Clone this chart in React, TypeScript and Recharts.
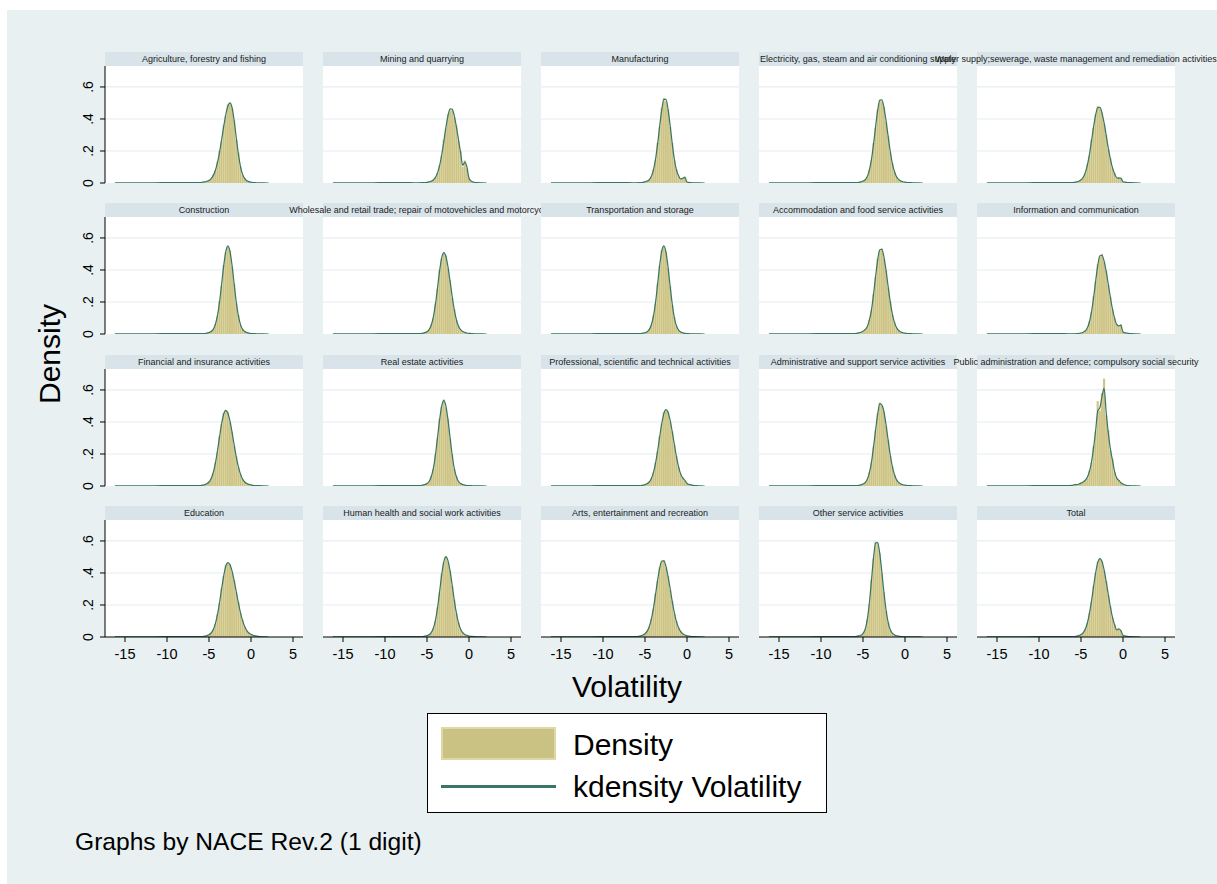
import React from "react";
import { ComposedChart, Bar, Line, XAxis, YAxis, CartesianGrid } from "recharts";

// ---------- data ----------
const panelTitles = [
  "Agriculture, forestry and fishing",
  "Mining and quarrying",
  "Manufacturing",
  "Electricity, gas, steam and air conditioning supply",
  "Water supply;sewerage, waste management and remediation activities",
  "Construction",
  "Wholesale and retail trade; repair of motovehicles and motorcycles",
  "Transportation and storage",
  "Accommodation and food service activities",
  "Information and communication",
  "Financial and insurance activities",
  "Real estate activities",
  "Professional, scientific and technical activities",
  "Administrative and support service activities",
  "Public administration and defence; compulsory social security",
  "Education",
  "Human health and social work activities",
  "Arts, entertainment and recreation",
  "Other service activities",
  "Total",
];

const binX = [-6, -5.75, -5.5, -5.25, -5, -4.75, -4.5, -4.25, -4, -3.75, -3.5, -3.25, -3, -2.75, -2.5, -2.25, -2, -1.75, -1.5, -1.25, -1, -0.75, -0.5, -0.25, 0, 0.25, 0.5, 0.75, 1];
const tailLeftX = [-16.2, -13, -10, -8, -7];
const tailLeftK = [0.001, 0.001, 0.002, 0.002, 0.002];
const tailRightX = [1.5, 2.1];
const tailRightK = [0.001, 0];

const xTicks = [-15, -10, -5, 0, 5];
const yTicks = [0, 0.2, 0.4, 0.6];
const gridValues = [0.2, 0.4, 0.6];

const kd01 = [.003,.005,.007,.011,.016,.027,.046,.078,.126,.19,.27,.353,.428,.481,.5,.469,.388,.282,.18,.103,.054,.027,.014,.009,.005,.003,.002,.001,.001];
const hist01 = [.004,.004,.008,.01,.018,.025,.05,.075,.13,.2,.26,.36,.42,.49,.49,.47,.39,.27,.19,.1,.05,.03,.012,.01,.004,.003,.002,.001,0];
const kd02 = [.001,.002,.002,.003,.004,.007,.011,.019,.034,.063,.108,.175,.259,.346,.421,.464,.46,.42,.35,.27,.19,.11,.13,.1,.03,.012,.006,.003,.002];
const hist02 = [.002,.001,.003,.003,.005,.006,.013,.018,.036,.06,.11,.17,.27,.34,.43,.46,.45,.41,.36,.26,.2,.1,.14,.09,.03,.01,.006,.002,.001];
const kd03 = [.001,.002,.003,.004,.007,.012,.02,.04,.08,.147,.243,.356,.458,.522,.522,.458,.356,.243,.147,.08,.045,.025,.03,.035,.006,.003,.002,.001,.001];
const hist03 = [.002,.002,.003,.005,.006,.013,.022,.038,.085,.14,.25,.35,.47,.53,.51,.46,.35,.25,.14,.085,.04,.028,.032,.04,.005,.003,.001,.001,0];
const kd04 = [.002,.003,.004,.007,.012,.02,.039,.079,.145,.24,.352,.454,.517,.519,.47,.387,.289,.195,.121,.07,.038,.022,.013,.008,.005,.003,.002,.002,.001];
const hist04 = [.002,.003,.005,.006,.013,.022,.037,.082,.14,.25,.345,.46,.52,.51,.475,.38,.295,.19,.125,.068,.04,.02,.014,.007,.005,.002,.002,.001,.001];
const kd05 = [.003,.004,.007,.011,.02,.034,.063,.11,.177,.262,.352,.427,.471,.472,.437,.375,.298,.218,.149,.094,.058,.033,.03,.03,.008,.005,.003,.002,.002];
const hist05 = [.003,.005,.006,.012,.018,.036,.06,.115,.17,.27,.345,.43,.48,.465,.44,.37,.3,.21,.155,.09,.06,.03,.034,.028,.007,.005,.002,.002,.001];
const kd06 = [.002,.002,.003,.005,.009,.015,.029,.059,.113,.198,.31,.426,.515,.55,.515,.426,.31,.198,.113,.059,.029,.015,.009,.005,.003,.002,.002,.001,.001];
const hist06 = [.002,.003,.003,.006,.008,.016,.027,.062,.11,.205,.3,.43,.51,.545,.52,.42,.315,.19,.118,.056,.03,.014,.01,.004,.003,.002,.001,.001,0];
const kd07 = [.002,.003,.005,.009,.014,.027,.055,.104,.183,.287,.394,.476,.508,.484,.418,.328,.233,.151,.089,.049,.027,.015,.01,.006,.004,.003,.002,.001,.001];
const hist07 = [.002,.004,.005,.008,.016,.025,.058,.1,.19,.28,.4,.47,.5,.49,.41,.335,.225,.155,.085,.052,.025,.016,.009,.006,.003,.003,.001,.001,0];
const kd08 = [.002,.002,.003,.005,.008,.014,.027,.056,.11,.195,.31,.43,.52,.55,.51,.415,.295,.185,.1,.05,.024,.012,.007,.004,.003,.002,.001,.001,.001];
const hist08 = [.002,.002,.004,.005,.009,.013,.029,.054,.115,.19,.315,.425,.525,.545,.515,.41,.3,.18,.105,.048,.025,.011,.008,.004,.002,.002,.001,.001,0];
const kd09 = [.003,.004,.007,.011,.017,.027,.045,.085,.148,.245,.359,.463,.526,.529,.479,.394,.294,.199,.123,.071,.039,.022,.013,.008,.005,.003,.002,.002,.001];
const hist09 = [.003,.005,.006,.012,.016,.029,.043,.088,.145,.25,.355,.47,.52,.535,.47,.4,.29,.205,.12,.074,.037,.023,.012,.008,.004,.003,.002,.001,.001];
const kd10 = [.001,.001,.002,.004,.006,.011,.019,.037,.075,.138,.228,.333,.43,.489,.492,.455,.391,.31,.228,.155,.098,.06,.05,.055,.013,.008,.005,.003,.002];
const hist10 = [.001,.002,.002,.004,.007,.01,.021,.035,.078,.135,.235,.33,.435,.485,.5,.45,.395,.305,.232,.15,.1,.058,.052,.06,.012,.008,.004,.003,.001];
const kd11 = [.003,.005,.009,.014,.025,.046,.083,.14,.217,.305,.389,.45,.473,.455,.405,.334,.255,.18,.119,.074,.043,.025,.015,.01,.007,.004,.003,.002,.002];
const hist11 = [.003,.006,.008,.015,.024,.048,.08,.145,.21,.31,.385,.455,.47,.46,.4,.34,.25,.185,.115,.076,.041,.026,.014,.01,.006,.004,.002,.002,.001];
const kd12 = [.002,.003,.005,.009,.015,.028,.058,.109,.192,.301,.413,.499,.533,.499,.413,.301,.192,.109,.058,.028,.015,.009,.005,.003,.002,.002,.001,.001,.001];
const hist12 = [.002,.003,.006,.008,.016,.027,.06,.105,.195,.295,.42,.495,.54,.49,.42,.295,.198,.105,.06,.027,.016,.008,.005,.003,.002,.001,.001,.001,0];
const kd13 = [.002,.002,.003,.005,.009,.014,.025,.046,.084,.142,.218,.308,.392,.454,.477,.459,.408,.337,.258,.182,.12,.074,.05,.035,.015,.01,.007,.004,.003];
const hist13 = [.002,.003,.003,.006,.008,.015,.024,.048,.082,.145,.215,.31,.39,.46,.47,.465,.4,.34,.255,.185,.118,.076,.055,.032,.016,.009,.007,.003,.002];
const kd14 = [.002,.003,.004,.007,.012,.021,.04,.08,.146,.242,.35,.45,.515,.505,.462,.38,.284,.192,.12,.07,.038,.022,.013,.008,.005,.003,.002,.002,.001];
const hist14 = [.002,.003,.005,.007,.011,.022,.038,.083,.143,.245,.345,.455,.52,.5,.465,.375,.29,.188,.122,.068,.04,.021,.013,.007,.005,.003,.002,.001,.001];
const kd15 = [.004,.008,.008,.012,.018,.025,.035,.055,.09,.15,.24,.35,.47,.49,.56,.61,.46,.33,.23,.16,.09,.05,.035,.02,.012,.006,.003,.002,.001];
const hist15 = [.005,.01,.006,.01,.02,.024,.038,.05,.095,.145,.25,.34,.53,.47,.58,.67,.44,.35,.22,.17,.085,.05,.037,.018,.012,.005,.003,.002,.001];
const kd16 = [.002,.003,.005,.009,.014,.025,.045,.082,.138,.213,.3,.382,.443,.465,.451,.41,.351,.282,.213,.151,.102,.065,.039,.025,.017,.01,.007,.005,.003];
const hist16 = [.003,.003,.006,.008,.015,.024,.047,.08,.142,.21,.305,.38,.45,.46,.455,.405,.355,.278,.218,.148,.105,.062,.041,.024,.018,.009,.007,.004,.003];
const kd17 = [.002,.002,.003,.005,.009,.014,.027,.054,.103,.18,.282,.388,.469,.5,.476,.411,.323,.229,.149,.088,.049,.027,.015,.01,.006,.004,.003,.002,.001];
const hist17 = [.002,.003,.003,.006,.008,.015,.025,.056,.1,.185,.278,.395,.465,.505,.47,.415,.318,.233,.145,.09,.047,.028,.014,.01,.005,.004,.002,.002,.001];
const kd18 = [.003,.004,.007,.012,.02,.035,.064,.11,.179,.264,.354,.43,.474,.475,.44,.377,.3,.22,.15,.095,.058,.034,.02,.012,.008,.005,.003,.002,.002];
const hist18 = [.003,.005,.006,.013,.019,.037,.062,.113,.175,.27,.35,.435,.47,.48,.435,.38,.295,.225,.146,.098,.056,.035,.019,.012,.007,.005,.003,.002,.001];
const kd19 = [.002,.004,.007,.011,.022,.048,.106,.208,.349,.493,.587,.59,.519,.403,.275,.166,.09,.045,.023,.013,.008,.005,.003,.002,.001,.001,.001,.001,.001];
const hist19 = [.002,.004,.008,.01,.024,.046,.11,.204,.355,.49,.595,.585,.525,.398,.28,.162,.093,.043,.024,.012,.008,.004,.003,.002,.001,.001,.001,0,0];
const kd20 = [.002,.003,.005,.009,.015,.026,.048,.086,.146,.224,.316,.403,.466,.49,.471,.419,.346,.265,.187,.123,.076,.045,.05,.04,.01,.007,.004,.003,.002];
const hist20 = [.002,.003,.006,.008,.016,.025,.05,.084,.15,.22,.32,.4,.47,.485,.475,.415,.35,.26,.19,.12,.078,.044,.055,.038,.011,.006,.004,.002,.002];

const kdList = [kd01, kd02, kd03, kd04, kd05, kd06, kd07, kd08, kd09, kd10, kd11, kd12, kd13, kd14, kd15, kd16, kd17, kd18, kd19, kd20];
const histList = [hist01, hist02, hist03, hist04, hist05, hist06, hist07, hist08, hist09, hist10, hist11, hist12, hist13, hist14, hist15, hist16, hist17, hist18, hist19, hist20];

// ---------- layout / style ----------
const FONT = '"Liberation Sans", Arial, Helvetica, sans-serif';
const X_DOMAIN: [number, number] = [-17.38, 6.19];
const Y_DOMAIN: [number, number] = [0, 0.731];
const PLOT_LEFT0 = 105;
const COL_STEP = 218;
const STRIP_TOP0 = 52;
const ROW_STEP = 151.4;
const STRIP_H = 14;
const PW = 198;
const PH = 117;
const Y_AXIS_W = 45;
const X_AXIS_H = 30;
const EXTRA_B = 12;

const BG = "#e8f0f2";
const STRIP_BG = "#d9e4ea";
const GRID = "#e6edf0";
const BAR_FILL = "#ccc283";
const BAR_STROKE = "#dcd5a0";
const LINE = "#367567";

function buildRows(i: number) {
  const kd = kdList[i];
  const hist = histList[i];
  const rows: { x: number; h?: number; k: number }[] = [];
  tailLeftX.forEach((x, j) => rows.push({ x, k: tailLeftK[j] }));
  binX.forEach((x, j) => rows.push({ x, h: hist[j], k: kd[j] }));
  tailRightX.forEach((x, j) => rows.push({ x, k: tailRightK[j] }));
  return rows;
}

const fmtY = (v: number) => (v === 0 ? "0" : String(v).replace(/^0/, ""));

const YTick = (props: any) => {
  const { x, y, payload } = props;
  const bx = x - 5;
  return (
    <text
      x={bx}
      y={y}
      transform={`rotate(-90 ${bx} ${y})`}
      textAnchor="middle"
      fontSize={14}
      fill="#000"
      fontFamily={FONT}
    >
      {fmtY(payload.value)}
    </text>
  );
};

function Panel({ idx }: { idx: number }) {
  const r = Math.floor(idx / 5);
  const c = idx % 5;
  const left = PLOT_LEFT0 + c * COL_STEP;
  const stripTop = Math.round(STRIP_TOP0 + r * ROW_STEP);
  const top = stripTop + STRIP_H;
  const showY = c === 0;
  const showX = r === 3;
  const yw = showY ? Y_AXIS_W : 0;
  const xh = showX ? X_AXIS_H : 0;
  const extraB = showY && !showX ? EXTRA_B : 0;
  const rows = buildRows(idx);
  return (
    <>
      <div style={{ position: "absolute", left, top, width: PW, height: PH, background: "#fff" }} />
      <div
        style={{
          position: "absolute",
          left,
          top: stripTop,
          width: PW,
          height: STRIP_H,
          background: STRIP_BG,
        }}
      >
        <div
          style={{
            position: "absolute",
            left: "50%",
            top: 0,
            transform: "translateX(-50%)",
            whiteSpace: "nowrap",
            fontSize: 9,
            lineHeight: `${STRIP_H}px`,
            color: "#1a1a1a",
            fontFamily: FONT,
          }}
        >
          {panelTitles[idx]}
        </div>
      </div>
      <div style={{ position: "absolute", left: left - yw, top }}>
        <ComposedChart
          width={PW + yw}
          height={PH + xh + extraB}
          data={rows}
          margin={{ top: 0, right: 0, bottom: extraB, left: 0 }}
        >
          <CartesianGrid
            vertical={false}
            horizontalValues={gridValues}
            stroke={GRID}
            strokeWidth={1.2}
          />
          <XAxis
            dataKey="x"
            type="number"
            domain={X_DOMAIN}
            ticks={xTicks}
            allowDataOverflow
            hide={!showX}
            height={X_AXIS_H}
            tickSize={5}
            tickMargin={7}
            axisLine={{ stroke: "#000" }}
            tickLine={{ stroke: "#000" }}
            tick={{ fill: "#000", fontSize: 14.5, fontFamily: FONT }}
            interval={0}
          />
          <YAxis
            type="number"
            domain={Y_DOMAIN}
            ticks={yTicks}
            allowDataOverflow
            hide={!showY}
            width={Y_AXIS_W}
            tickSize={5}
            axisLine={{ stroke: "#000" }}
            tickLine={{ stroke: "#000" }}
            tick={<YTick />}
            interval={0}
          />
          <Bar
            dataKey="h"
            barSize={2}
            fill={BAR_FILL}
            stroke={BAR_STROKE}
            strokeWidth={0.3}
            isAnimationActive={false}
          />
          <Line
            dataKey="k"
            type="monotone"
            stroke={LINE}
            strokeWidth={1.2}
            dot={false}
            activeDot={false}
            isAnimationActive={false}
          />
        </ComposedChart>
      </div>
    </>
  );
}

export default function App() {
  return (
    <div
      style={{
        position: "absolute",
        left: 0,
        top: 0,
        width: 1217,
        height: 884,
        background: "#fff",
        overflow: "hidden",
        fontFamily: FONT,
      }}
    >
      <div style={{ position: "absolute", left: 7, top: 10, width: 1210, height: 874, background: BG }} />
      {panelTitles.map((_, i) => (
        <Panel key={i} idx={i} />
      ))}
      {/* y axis title */}
      <div
        style={{
          position: "absolute",
          left: 50,
          top: 354,
          transform: "translate(-50%, -50%) rotate(-90deg)",
          fontSize: 30,
          whiteSpace: "nowrap",
          color: "#000",
        }}
      >
        Density
      </div>
      {/* x axis title */}
      <div
        style={{
          position: "absolute",
          left: 627,
          top: 687,
          transform: "translate(-50%, -50%)",
          fontSize: 30,
          whiteSpace: "nowrap",
          color: "#000",
        }}
      >
        Volatility
      </div>
      {/* legend */}
      <div
        style={{
          position: "absolute",
          left: 427,
          top: 713,
          width: 400,
          height: 100,
          boxSizing: "border-box",
          border: "1.5px solid #000",
          background: "#fff",
        }}
      />
      <div
        style={{
          position: "absolute",
          left: 441,
          top: 727,
          width: 115,
          height: 33,
          boxSizing: "border-box",
          background: "#c9c283",
          border: "2px solid #ddd8a6",
        }}
      />
      <div style={{ position: "absolute", left: 441, top: 785, width: 115, height: 2.6, background: "#3b7567" }} />
      <div style={{ position: "absolute", left: 573, top: 726, lineHeight: "38px", fontSize: 30, whiteSpace: "nowrap" }}>
        Density
      </div>
      <div style={{ position: "absolute", left: 573, top: 768, lineHeight: "38px", fontSize: 30, whiteSpace: "nowrap" }}>
        kdensity Volatility
      </div>
      {/* note */}
      <div style={{ position: "absolute", left: 75, top: 828, lineHeight: "28px", fontSize: 24.6, whiteSpace: "nowrap" }}>
        Graphs by NACE Rev.2 (1 digit)
      </div>
    </div>
  );
}
